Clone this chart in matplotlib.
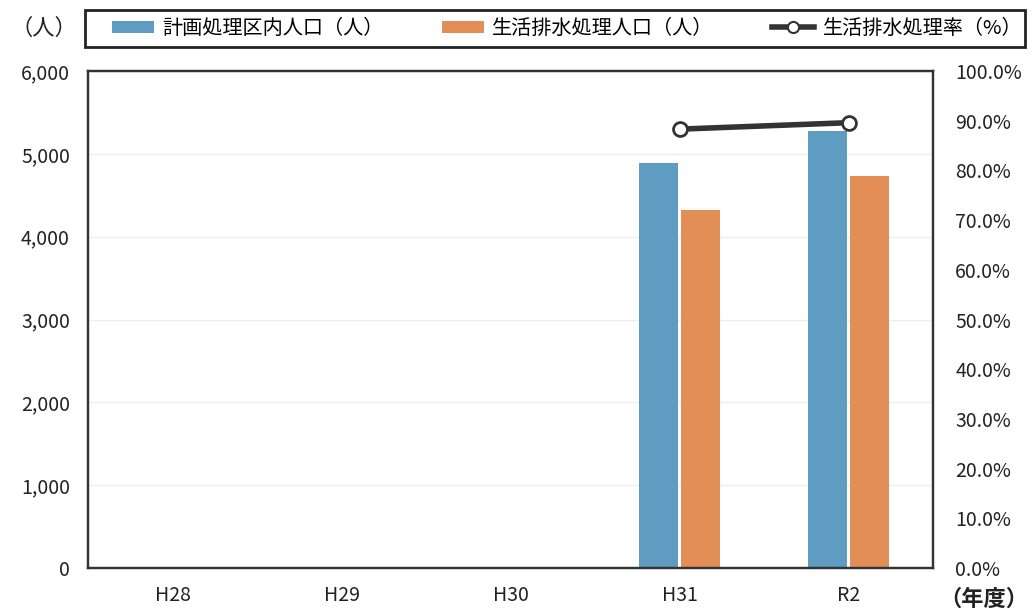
import matplotlib
matplotlib.use("Agg")
import matplotlib.pyplot as plt
import numpy as np
from matplotlib.lines import Line2D
from matplotlib.patches import Patch, Rectangle

plt.rcParams['font.family'] = ['Noto Sans CJK JP', 'DejaVu Sans']

# Data
years = ["H28", "H29", "H30", "H31", "R2"]
planned_pop = [np.nan, np.nan, np.nan, 4890, 5280]      # 計画処理区内人口（人）
treated_pop = [np.nan, np.nan, np.nan, 4320, 4730]      # 生活排水処理人口（人）
treat_rate = [np.nan, np.nan, np.nan, 88.3, 89.6]       # 生活排水処理率（%）

left_ticks = [0, 1000, 2000, 3000, 4000, 5000, 6000]
right_ticks = [0, 10, 20, 30, 40, 50, 60, 70, 80, 90, 100]

blue = "#5e9cc2"
orange = "#e38e57"
ink = "#222222"

W, H = 1034, 616
fig = plt.figure(figsize=(W / 100, H / 100), dpi=100)
ax = fig.add_axes([88/W, 48/H, 845/W, 497/H])

x = np.arange(len(years))
w = 0.23
gap = 0.008
ax.bar(x - w/2 - gap, planned_pop, width=w, color=blue, zorder=2)
ax.bar(x + w/2 + gap, treated_pop, width=w, color=orange, zorder=2)

ax.set_xlim(-0.5, len(years) - 0.5)
ax.set_ylim(0, 6000)
ax.set_yticks(left_ticks)
ax.set_yticklabels([f"{v:,}" for v in left_ticks])
ax.set_xticks(x)
ax.set_xticklabels(years)
ax.tick_params(axis='both', length=0, labelsize=14, colors=ink)
ax.tick_params(axis='y', pad=13)
ax.tick_params(axis='x', pad=12)
ax.grid(axis='y', color="#eeeeee", linewidth=1, zorder=0)
for s in ax.spines.values():
    s.set_color("#333333")
    s.set_linewidth(1.6)

ax2 = ax.twinx()
ax2.plot(x, treat_rate, color="#333333", linewidth=4, marker="o", markersize=10,
         markerfacecolor="white", markeredgecolor="#333333", markeredgewidth=2, zorder=3)
ax2.set_ylim(0, 100)
ax2.set_yticks(right_ticks)
ax2.set_yticklabels([f"{v:.1f}%" for v in right_ticks])
ax2.tick_params(axis='y', length=0, labelsize=14, colors=ink, pad=16)
for s in ax2.spines.values():
    s.set_color("#333333")
    s.set_linewidth(1.6)

fig.text(44/W, 1 - 28/H, "（人）", fontsize=16, ha='center', va='center', color=ink)
fig.text(984/W, 1 - 599/H, "（年度）", fontsize=16, ha='center', va='center',
         color=ink, fontweight='bold')

# Legend frame spanning the top of the figure
fig.patches.append(Rectangle((85/W, 1 - 47/H), 940/W, 37/H, transform=fig.transFigure,
                             facecolor='white', edgecolor=ink, linewidth=2, zorder=1))

handles = [
    Patch(facecolor=blue, edgecolor='none'),
    Patch(facecolor=orange, edgecolor='none'),
    Line2D([0], [0], color="#333333", linewidth=4, marker="o", markersize=8,
           markerfacecolor="white", markeredgecolor="#333333", markeredgewidth=1.5),
]
labels = ["計画処理区内人口（人）", "生活排水処理人口（人）", "生活排水処理率（%）"]
leg = fig.legend(handles, labels, ncol=3, loc='center',
                 bbox_to_anchor=(567/W, 1 - 28.5/H), fontsize=14.5,
                 frameon=False, handlelength=2.1, handleheight=0.55,
                 columnspacing=2.9, borderpad=0.3, handletextpad=0.4, borderaxespad=0)
leg.set_zorder(2)

fig.savefig("out.png", dpi=100)
